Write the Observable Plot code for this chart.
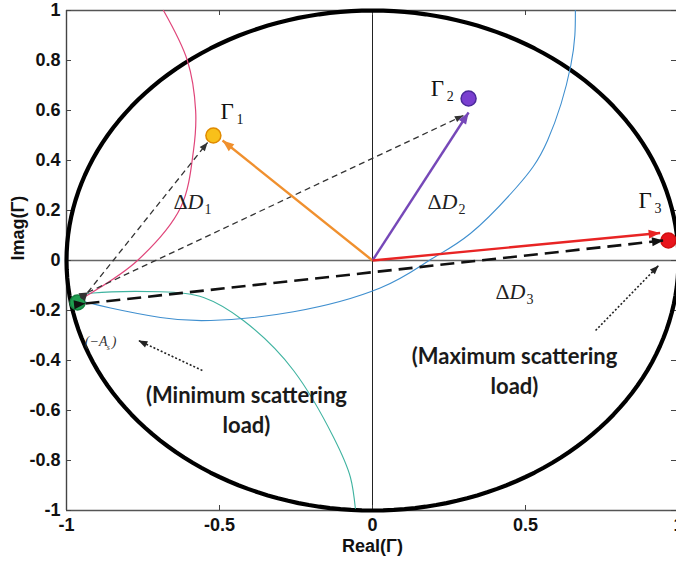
<!DOCTYPE html>
<html><head><meta charset="utf-8">
<script src="https://cdn.jsdelivr.net/npm/d3@7"></script>
<script src="https://cdn.jsdelivr.net/npm/@observablehq/plot@0.6"></script>
<style>
body{margin:0;background:#fff}
#chart svg{display:block}
</style>
</head><body><div id="chart"></div>
<script>
// ---- tick values and labels ----
const xTicks = [-1, -0.5, 0, 0.5, 1];
const xTickLabels = ["-1", "-0.5", "0", "0.5", "1"];
const yTicks = [-1, -0.8, -0.6, -0.4, -0.2, 0, 0.2, 0.4, 0.6, 0.8, 1];
const yTickLabels = ["-1", "-0.8", "-0.6", "-0.4", "-0.2", "0", "0.2", "0.4", "0.6", "0.8", "1"];
const xTitle = "Real(Γ)";
const yTitle = "Imag(Γ)";

// ---- unit circle (|Γ| = 1) ----
const unitRadius = 1;

// ---- arcs ([Re, Im]) ----
const pinkArc = [[-0.683, 1.0], [-0.605, 0.8], [-0.578, 0.6], [-0.585, 0.44], [-0.627, 0.212], [-0.768, 0.0], [-0.922, -0.132], [-0.964, -0.16]];
const blueArc = [[0.663, 1.0], [0.648, 0.78], [0.572, 0.48], [0.47, 0.292], [0.32, 0.108], [0.185, 0.0], [0.025, -0.11], [-0.258, -0.205], [-0.529, -0.24], [-0.693, -0.228], [-0.856, -0.19], [-0.931, -0.168], [-0.964, -0.16]];
const tealArc = [[-0.964, -0.16], [-0.912, -0.13], [-0.693, -0.125], [-0.552, -0.148], [-0.422, -0.24], [-0.258, -0.44], [-0.127, -0.708], [-0.072, -0.868], [-0.056, -0.992]];

// ---- reflection-coefficient points ----
const pointNames = ["G1", "G2", "G3", "As"];
const pointRe = [-0.52, 0.314, 0.967, -0.964];
const pointIm = [0.50, 0.648, 0.08, -0.168];

// ---- vectors ΔD (origin -> Γi) ----
const vecNames = ["D1", "D2", "D3"];
const vecRe0 = [0, 0, 0];
const vecIm0 = [0, 0, 0];
const vecRe1 = [-0.49, 0.314, 0.94];
const vecIm1 = [0.48, 0.592, 0.11];

// ---- dashed double arrows from (-A_s) ----
const thinRe0 = [-0.931, -0.931];
const thinIm0 = [-0.128, -0.128];
const thinRe1 = [-0.539, 0.297];
const thinIm1 = [0.472, 0.58];
const thickRe0 = [-0.938];
const thickIm0 = [-0.172];
const thickRe1 = [0.951];
const thickIm1 = [0.08];

// ---- dotted pointer arrows ----
const dotRe0 = [-0.556, 0.729];
const dotIm0 = [-0.44, -0.28];
const dotRe1 = [-0.765, 0.935];
const dotIm1 = [-0.32, -0.02];

// ---- labels ----
const gammaSubs = ["1", "2", "3"];
const gammaRe = [-0.497, 0.19, 0.869];
const gammaIm = [0.568, 0.66, 0.212];
const deltaSubs = ["1", "2", "3"];
const deltaRe = [-0.65, 0.18, 0.402];
const deltaIm = [0.208, 0.208, -0.152];
const noteTexts = ["(Minimum scattering\nload)", "(Maximum scattering\nload)"];
const noteRe = [-0.412, 0.464];
const noteIm = [-0.688, -0.532];
const asLabel = {main: "(−A", sub: "s", close: ")"};
const asRe = -0.94;
const asIm = -0.34;

// ---- build tables ----
const circlePts = d3.range(0, 361, 2).map(a => [unitRadius * Math.cos(a * Math.PI / 180), unitRadius * Math.sin(a * Math.PI / 180)]);
const points = pointNames.map((n, i) => ({n, x: pointRe[i], y: pointIm[i]}));
const vecs = vecNames.map((n, i) => ({n, x1: vecRe0[i], y1: vecIm0[i], x2: vecRe1[i], y2: vecIm1[i]}));
const thin = thinRe0.map((d, i) => ({x1: d, y1: thinIm0[i], x2: thinRe1[i], y2: thinIm1[i]}));
const thick = thickRe0.map((d, i) => ({x1: d, y1: thickIm0[i], x2: thickRe1[i], y2: thickIm1[i]}));
const dotted = dotRe0.map((d, i) => ({x1: d, y1: dotIm0[i], x2: dotRe1[i], y2: dotIm1[i]}));
const gammas = gammaSubs.map((s, i) => ({s, x: gammaRe[i], y: gammaIm[i]}));
const deltas = deltaSubs.map((s, i) => ({s, x: deltaRe[i], y: deltaIm[i]}));
const notes = noteTexts.map((t, i) => ({t, x: noteRe[i], y: noteIm[i]}));

const pointFill = {G1: "#f8c01a", G2: "#7a3fd0", G3: "#e8141c", As: "#1f9d50"};
const pointStroke = {G1: "#e08a00", G2: "#4a2a9a", G3: "#d01010", As: "#168040"};
const vecColor = {D1: "#f0902e", D2: "#7648b8", D3: "#e82424"};

const serif = "Liberation Serif, Times New Roman, serif";

const chart = Plot.plot({
  width: 676,
  height: 561,
  marginLeft: 66, marginRight: 0, marginTop: 10, marginBottom: 51,
  x: {domain: [-1, 1], range: [66, 678]},
  y: {domain: [-1, 1], range: [510, 10]},
  style: {fontFamily: "Liberation Sans, Arial, sans-serif", background: "#fff", color: "#111"},
  marks: [
    // frame & zero lines
    Plot.ruleY([1, -1], {stroke: "#555", strokeWidth: 1.6}),
    Plot.ruleX([-1], {stroke: "#444", strokeWidth: 1.4}),
    Plot.ruleY([0], {stroke: "#666", strokeWidth: 1.6}),
    Plot.ruleX([0], {stroke: "#222", strokeWidth: 1}),
    // inward ticks
    Plot.tickX(xTicks, {x: d => d, insetTop: 495, stroke: "#444"}),
    Plot.tickX(xTicks, {x: d => d, insetBottom: 495, stroke: "#444"}),
    Plot.tickY(yTicks, {y: d => d, insetRight: 605, stroke: "#444"}),
    Plot.tickY(yTicks, {y: d => d, insetLeft: 605, stroke: "#444"}),
    // tick labels
    Plot.axisX({ticks: xTicks, tickFormat: d => xTickLabels[xTicks.indexOf(d)], tickSize: 0, tickPadding: 8, fontSize: 18, fontWeight: "bold", label: null}),
    Plot.axisY({ticks: yTicks, tickFormat: d => yTickLabels[yTicks.indexOf(d)], tickSize: 0, tickPadding: 6, fontSize: 18, fontWeight: "bold", label: null}),
    Plot.text([xTitle], {frameAnchor: "bottom", dx: 1, dy: 41, fontSize: 18, fontWeight: "bold", fill: "#111"}),
    Plot.text([yTitle], {frameAnchor: "left", dx: -48, rotate: -90, fontSize: 18, fontWeight: "bold", fill: "#111"}),
    // unit circle
    Plot.line(circlePts, {x: d => d[0], y: d => d[1], stroke: "#000", strokeWidth: 4.2}),
    // arcs
    Plot.line(tealArc, {x: d => d[0], y: d => d[1], stroke: "#3fb3a0", strokeWidth: 1.1, curve: "natural"}),
    Plot.line(blueArc, {x: d => d[0], y: d => d[1], stroke: "#3f8fcf", strokeWidth: 1.1, curve: "natural"}),
    Plot.line(pinkArc, {x: d => d[0], y: d => d[1], stroke: "#e0457a", strokeWidth: 1.2, curve: "catmull-rom"}),
    // points
    Plot.dot(points, {x: "x", y: "y", r: 7.5, fill: d => pointFill[d.n], stroke: d => pointStroke[d.n], strokeWidth: 1.5}),
    // dashed double arrows
    Plot.link(thin, {x1: "x1", y1: "y1", x2: "x2", y2: "y2", stroke: "#333", strokeWidth: 1.3, strokeDasharray: "6,4", markerStart: "arrow", markerEnd: "arrow"}),
    Plot.link(thick, {x1: "x1", y1: "y1", x2: "x2", y2: "y2", stroke: "#111", strokeWidth: 2.6, strokeDasharray: "14,7", markerStart: "arrow", markerEnd: "arrow"}),
    // dotted pointers
    Plot.link(dotted, {x1: "x1", y1: "y1", x2: "x2", y2: "y2", stroke: "#222", strokeWidth: 1.6, strokeDasharray: "2,2", markerEnd: "arrow"}),
    // ΔD vectors
    Plot.link(vecs, {x1: "x1", y1: "y1", x2: "x2", y2: "y2", stroke: d => vecColor[d.n], strokeWidth: 2.4, markerEnd: "arrow"}),
    // Γ labels
    Plot.text(gammas, {x: "x", y: "y", text: () => "Γ", textAnchor: "start", lineAnchor: "bottom", fontFamily: serif, fontSize: 23, fill: "#111"}),
    Plot.text(gammas, {x: "x", y: "y", text: "s", dx: 16, dy: 5, textAnchor: "start", lineAnchor: "bottom", fontFamily: serif, fontSize: 14, fill: "#111"}),
    // ΔD labels
    Plot.text(deltas, {x: "x", y: "y", text: () => "Δ", textAnchor: "start", lineAnchor: "bottom", fontFamily: serif, fontSize: 22, fill: "#222"}),
    Plot.text(deltas, {x: "x", y: "y", text: () => "D", dx: 14, textAnchor: "start", lineAnchor: "bottom", fontFamily: serif, fontStyle: "italic", fontSize: 22, fill: "#222"}),
    Plot.text(deltas, {x: "x", y: "y", text: "s", dx: 31, dy: 5, textAnchor: "start", lineAnchor: "bottom", fontFamily: serif, fontSize: 14, fill: "#222"}),
    // (−A_s)
    Plot.text([asLabel], {x: () => asRe, y: () => asIm, text: "main", textAnchor: "start", lineAnchor: "bottom", fontFamily: serif, fontStyle: "italic", fontSize: 14, fill: "#333"}),
    Plot.text([asLabel], {x: () => asRe, y: () => asIm, text: "sub", dx: 22, dy: 4, textAnchor: "start", lineAnchor: "bottom", fontFamily: serif, fontStyle: "italic", fontSize: 8, fill: "#333"}),
    Plot.text([asLabel], {x: () => asRe, y: () => asIm, text: "close", dx: 27, textAnchor: "start", lineAnchor: "bottom", fontFamily: serif, fontStyle: "italic", fontSize: 14, fill: "#333"}),
    // notes
    Plot.text(notes, {x: "x", y: "y", text: "t", textAnchor: "middle", lineAnchor: "bottom", lineHeight: 1.36, fontFamily: "Lato, Open Sans, sans-serif", fontWeight: 700, fontSize: 22, fill: "#1a1a1a"})
  ]
});

// filled triangular arrowheads
chart.querySelectorAll("[marker-end],[marker-start]").forEach(el => {
  const g = el.parentNode;
  const sw = +(el.getAttribute("stroke-width") || g.getAttribute("stroke-width") || 1);
  const s = sw >= 2.2 ? 1.35 : (sw >= 1.5 ? 1.05 : 1.0);
  for (const attr of ["marker-end", "marker-start"]) {
    const v = el.getAttribute(attr);
    if (!v) continue;
    const m0 = v.match(/#([^)"']+)/);
    if (!m0) continue;
    const m = chart.querySelector("#" + CSS.escape(m0[1]));
    if (!m || m.dataset.done) continue;
    m.dataset.done = "1";
    const color = m.getAttribute("stroke");
    m.setAttribute("viewBox", "-9 -4 10 8");
    m.setAttribute("markerUnits", "userSpaceOnUse");
    m.setAttribute("markerWidth", 10 * s);
    m.setAttribute("markerHeight", 8 * s);
    m.setAttribute("fill", color);
    m.setAttribute("stroke", "none");
    m.setAttribute("stroke-dasharray", "none");
    const p = m.querySelector("path");
    if (p) p.setAttribute("d", "M-8.5,-3.3L0,0L-8.5,3.3Z");
  }
});

document.getElementById("chart").appendChild(chart);
</script>
</body></html>
